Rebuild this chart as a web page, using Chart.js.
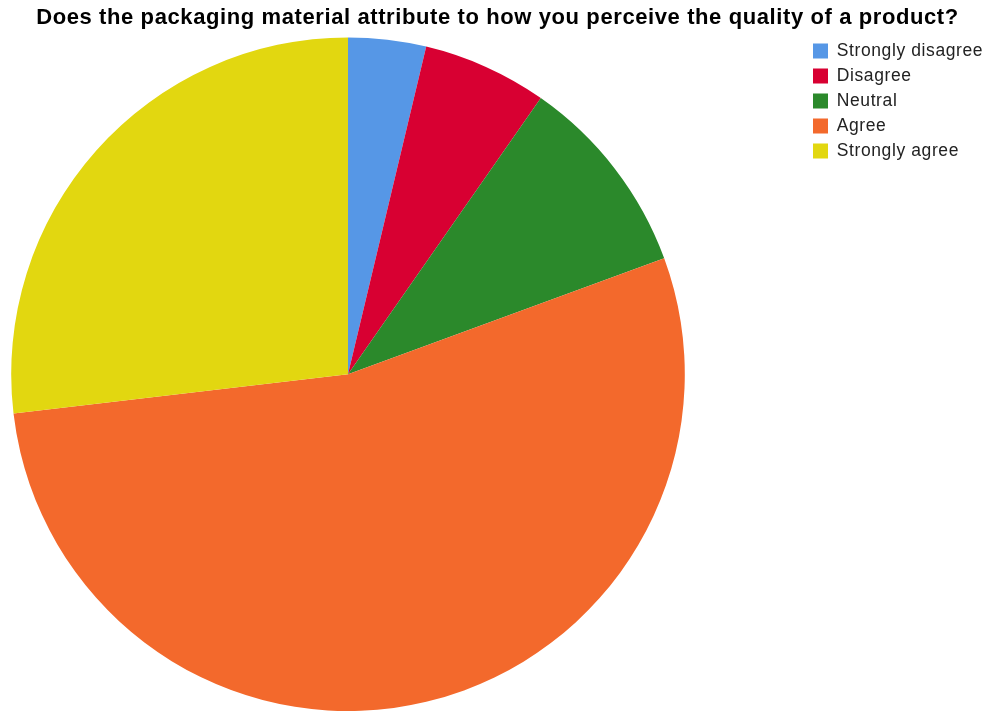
<!DOCTYPE html>
<html>
<head>
<meta charset="utf-8">
<script src="https://cdn.jsdelivr.net/npm/chart.js@4.4.1/dist/chart.umd.min.js"></script>
<style>
  html, body { margin: 0; padding: 0; background: #fff; }
</style>
</head>
<body>
<canvas id="chart" width="987" height="711" style="width:987px;height:711px;display:block"></canvas>
<script>
// ================== Data ==================
const chartTitle = "Does the packaging material attribute to how you perceive the quality of a product?";
const categories = ["Strongly disagree", "Disagree", "Neutral", "Agree", "Strongly agree"];
const responses = [5, 8, 13, 72, 36];
const sliceColors = ["#5697E6", "#D80032", "#2B892B", "#F3692C", "#E2D710"];

// ================== Plugin: letter spacing + legend placement ==================
const layoutPlugin = {
    id: "tweaks",
    beforeUpdate(chart) { chart.ctx.letterSpacing = "0.6px"; },
    beforeDraw(chart) { chart.ctx.letterSpacing = "0.6px"; },
    beforeLayout(chart) {
        // reserve a fixed strip on the right for the legend (pie stays left)
        const lg = chart.legend;
        if (lg && !lg._fixedFit) {
            const fit = lg.fit;
            lg.fit = function () { fit.call(this); this.width = 291; };
            lg._fixedFit = true;
        }
    },
    afterLayout(chart) {
        // legend items top-right, just above the pie top
        const lg = chart.legend;
        const w = lg.width, h = lg.height;
        lg.left = 805.5; lg.right = lg.left + w;
        lg.top = 34.75; lg.bottom = lg.top + h;
        // title sits a touch right of the canvas centre
        if (chart.titleBlock) {
            chart.titleBlock.left += 4;
            chart.titleBlock.right += 4;
        }
    }
};

new Chart(document.getElementById("chart"), {
    type: "pie",
    data: {
        labels: categories,
        datasets: [{
            data: responses,
            backgroundColor: sliceColors,
            borderWidth: 0
        }]
    },
    options: {
        responsive: false,
        animation: false,
        layout: { padding: 0 },
        plugins: {
            title: {
                display: true,
                text: chartTitle,
                color: "#000",
                font: { family: "'Liberation Sans', Arial, sans-serif", size: 22, weight: "bold" },
                padding: { top: 5, bottom: 6 }
            },
            legend: {
                position: "right",
                align: "start",
                labels: {
                    boxWidth: 15,
                    boxHeight: 15,
                    padding: 7.5,
                    color: "#222",
                    font: { family: "'Liberation Sans', Arial, sans-serif", size: 17.5 }
                }
            },
            tooltip: { enabled: false }
        }
    },
    plugins: [layoutPlugin]
});
</script>
</body>
</html>
